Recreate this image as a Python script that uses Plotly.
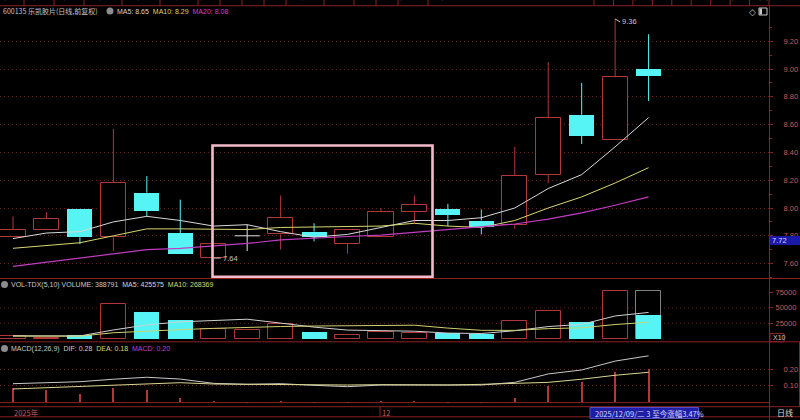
import plotly.graph_objects as go

# ================= data =================
day = list(range(20))
open_p  = [7.79, 7.84, 7.99, 7.79, 8.11, 7.82, 7.64, 7.80, 7.81, 7.83, 7.74, 7.79, 7.97, 7.99, 7.91, 7.88, 8.24, 8.67, 8.49, 9.00]
close_p = [7.84, 7.92, 7.79, 8.18, 7.98, 7.67, 7.74, 7.80, 7.93, 7.79, 7.84, 7.97, 8.02, 7.95, 7.86, 8.23, 8.65, 8.52, 8.94, 8.95]
high_p  = [7.94, 7.97, 7.99, 8.57, 8.23, 8.06, 7.74, 7.88, 8.09, 7.89, 7.84, 8.00, 8.09, 8.03, 7.99, 8.44, 9.05, 8.90, 9.36, 9.25]
low_p   = [7.79, 7.84, 7.74, 7.69, 7.94, 7.67, 7.64, 7.69, 7.70, 7.76, 7.67, 7.79, 7.89, 7.87, 7.81, 7.85, 8.18, 8.46, 8.49, 8.77]

ma5  = [7.78, 7.82, 7.83, 7.90, 7.94, 7.91, 7.87, 7.88, 7.83, 7.79, 7.81, 7.86, 7.91, 7.91, 7.93, 8.00, 8.14, 8.24, 8.44, 8.65]
ma10 = [7.71, 7.73, 7.75, 7.80, 7.85, 7.85, 7.845, 7.845, 7.86, 7.865, 7.865, 7.87, 7.89, 7.87, 7.86, 7.91, 8.00, 8.08, 8.18, 8.29]
ma20 = [7.58, 7.61, 7.64, 7.67, 7.70, 7.71, 7.725, 7.745, 7.77, 7.785, 7.795, 7.805, 7.825, 7.84, 7.86, 7.885, 7.92, 7.965, 8.02, 8.08]

volume   = [5000, 2400, 6100, 55600, 43700, 29800, 15800, 13700, 24400, 11500, 6100, 11000, 9400, 9400, 8200, 28200, 44400, 27100, 76600, 38879]
vol_forecast_last = 76800
vol_ma5  = [5200, 4600, 4900, 14500, 22560, 27520, 30200, 31720, 25480, 19040, 14300, 13340, 12480, 9480, 8820, 13240, 19920, 23460, 36900, 42558]
vol_ma10 = [4500, 4400, 4600, 10000, 13000, 15000, 17000, 19000, 20000, 20800, 20910, 21770, 22100, 17480, 13930, 13770, 16630, 17970, 23190, 26837]
vol_header = {'VOLUME': 388791, 'MA5': 425575, 'MA10': 268369}

dif  = [0.111, 0.119, 0.123, 0.138, 0.150, 0.139, 0.113, 0.107, 0.111, 0.101, 0.093, 0.103, 0.103, 0.103, 0.103, 0.119, 0.170, 0.194, 0.248, 0.280]
dea  = [0.079, 0.087, 0.093, 0.103, 0.113, 0.117, 0.109, 0.107, 0.107, 0.105, 0.103, 0.105, 0.103, 0.103, 0.107, 0.113, 0.119, 0.138, 0.162, 0.180]
macd = [0.085, 0.070, 0.050, 0.085, 0.075, 0.022, 0.004, -0.004, 0.003, -0.005, -0.005, 0.003, 0.004, -0.002, -0.004, 0.024, 0.097, 0.121, 0.182, 0.200]

axis_labels = ["2025年", "12"]
axis_label_days = [0, 11]
high_mark_day, low_mark_day = 18, 6
price_tag = 7.72

# ================= styling / layout helpers =================
FW, FH, PR = 800, 420, 769
RED = '#b03838'
CYAN = '#56f4f4'
GRID = '#6e1c1c'
BORDER = '#8a2222'
AXTXT = '#c45c5c'
FONT = 'Liberation Sans, Noto Sans CJK SC, sans-serif'
CJK = 'Noto Sans CJK SC, Liberation Sans, sans-serif'
DOTS = '1px,3px'

def dom(top_px, bot_px):
    return [1 - bot_px / FH, 1 - top_px / FH]

def txt(x, y, s, color, size=7, anchor='left', font=FONT, yanchor='middle'):
    return dict(xref='paper', yref='paper', x=x / PR, y=1 - y / FH, text=s, showarrow=False,
                xanchor=anchor, yanchor=yanchor, font=dict(color=color, size=size, family=font),
                borderpad=0)

def span(s, color):
    return f'<span style="color:{color}">{s}</span>'

def hline(y, x0=0, x1=FW, color=BORDER, w=1, dash='solid'):
    return dict(type='line', xref='paper', yref='paper', x0=x0 / PR, x1=x1 / PR, y0=1 - y / FH, y1=1 - y / FH,
                line=dict(color=color, width=w, dash=dash), layer='above')

def vline(x, y0, y1, color=BORDER, w=1):
    return dict(type='line', xref='paper', yref='paper', x0=x / PR, x1=x / PR, y0=1 - y0 / FH, y1=1 - y1 / FH,
                line=dict(color=color, width=w), layer='above')

def rect(x0, y0, x1, y1, line='rgba(0,0,0,0)', fill='rgba(0,0,0,0)', w=1):
    return dict(type='rect', xref='paper', yref='paper', x0=x0 / PR, x1=x1 / PR, y0=1 - y1 / FH, y1=1 - y0 / FH,
                line=dict(color=line, width=w), fillcolor=fill, layer='above')

def dot(cx, cy, r=3.5, color='#8c8c8c'):
    return dict(type='circle', xref='paper', yref='paper', x0=(cx - r) / PR, x1=(cx + r) / PR,
                y0=1 - (cy + r) / FH, y1=1 - (cy - r) / FH, fillcolor=color, line=dict(width=0), layer='above')

BW = 0.75
fig = go.Figure()

# ---------- candle wicks ----------
def wick_segments(sel):
    xs, ys = [], []
    for i in sel:
        lo_b, hi_b = min(open_p[i], close_p[i]), max(open_p[i], close_p[i])
        xs += [i, i, None, i, i, None]
        ys += [low_p[i], lo_b, None, hi_b, high_p[i], None]
    return xs, ys

up = [i for i in day if close_p[i] > open_p[i]]
dn = [i for i in day if close_p[i] < open_p[i]]
flat = [i for i in day if close_p[i] == open_p[i]]

for sel, col in ((up, RED), (dn, CYAN), (flat, '#e0e0e0')):
    xs, ys = wick_segments(sel)
    fig.add_trace(go.Scatter(x=xs, y=ys, mode='lines', line=dict(color=col, width=1),
                             yaxis='y', hoverinfo='skip'))

# ---------- candle bodies ----------
fig.add_trace(go.Bar(x=up, y=[close_p[i] - open_p[i] for i in up], base=[open_p[i] for i in up],
                     width=BW, marker=dict(color='black', line=dict(color=RED, width=1)), yaxis='y'))
fig.add_trace(go.Bar(x=dn, y=[open_p[i] - close_p[i] for i in dn], base=[close_p[i] for i in dn],
                     width=BW, marker=dict(color=CYAN, line=dict(color=CYAN, width=0)), yaxis='y'))
fx, fy = [], []
for i in flat:
    fx += [i - BW / 2, i + BW / 2, None]
    fy += [close_p[i], close_p[i], None]
fig.add_trace(go.Scatter(x=fx, y=fy, mode='lines', line=dict(color='#e0e0e0', width=1), yaxis='y'))

# ---------- price MAs ----------
fig.add_trace(go.Scatter(x=day, y=ma5, mode='lines', line=dict(color='#d8d8d8', width=1), yaxis='y'))
fig.add_trace(go.Scatter(x=day, y=ma10, mode='lines', line=dict(color='#d8d870', width=1), yaxis='y'))
fig.add_trace(go.Scatter(x=day, y=ma20, mode='lines', line=dict(color='#c23cc2', width=1.2), yaxis='y'))

# ---------- volume ----------
vup = [i for i in day if close_p[i] >= open_p[i]]
vdn = [i for i in day if close_p[i] < open_p[i]]
fig.add_trace(go.Bar(x=[day[-1]], y=[vol_forecast_last], width=BW,
                     marker=dict(color='black', line=dict(color='#808080', width=1)), yaxis='y2'))
fig.add_trace(go.Bar(x=vup, y=[volume[i] for i in vup], width=BW,
                     marker=dict(color='black', line=dict(color=RED, width=1)), yaxis='y2'))
fig.add_trace(go.Bar(x=vdn, y=[volume[i] for i in vdn], width=BW,
                     marker=dict(color=CYAN, line=dict(width=0)), yaxis='y2'))
fig.add_trace(go.Scatter(x=day, y=vol_ma5, mode='lines', line=dict(color='#d0d0d0', width=1), yaxis='y2'))
fig.add_trace(go.Scatter(x=day, y=vol_ma10, mode='lines', line=dict(color='#d0d070', width=1), yaxis='y2'))

# ---------- MACD ----------
fig.add_trace(go.Bar(x=day, y=macd, width=0.06,
                     marker=dict(color=[RED if v >= 0 else '#d8d8d8' for v in macd], line=dict(width=0)),
                     yaxis='y3'))
fig.add_trace(go.Scatter(x=day, y=dif, mode='lines', line=dict(color='#c8c8c8', width=1), yaxis='y3'))
fig.add_trace(go.Scatter(x=day, y=dea, mode='lines', line=dict(color='#d8d890', width=1), yaxis='y3'))

# ================= axes =================
P_TOP, P_BOT = 16, 278
V_TOP, V_BOT = 289, 340
M_TOP, M_BOT = 352, 403

def price_at(ypx):
    return 8.0 + (208 - ypx) / 139.0

def vol_at(ypx):
    return (339 - ypx) * 1603.0

def macd_at(ypx):
    return (402 - ypx) / 165.0

common = dict(side='right', anchor='x', ticks='outside', ticklen=3, tickcolor=BORDER, tickwidth=1,
              zeroline=False, showline=False, fixedrange=True,
              tickfont=dict(color=AXTXT, size=7.5, family=FONT))

fig.update_layout(
    width=FW, height=FH, margin=dict(l=0, r=FW - PR, t=0, b=0),
    paper_bgcolor='black', plot_bgcolor='black', showlegend=False,
    barmode='overlay', bargap=0, hovermode=False,
    xaxis=dict(range=[-0.389, 22.6], visible=False, fixedrange=True),
    yaxis=dict(domain=dom(P_TOP, P_BOT), range=[price_at(P_BOT), price_at(P_TOP)],
               tick0=7.6, dtick=0.2, tickformat='.2f', showgrid=True, gridcolor=GRID,
               griddash=DOTS, gridwidth=1, ticklabelstandoff=9,
               minor=dict(ticks='outside', ticklen=2, tickcolor=BORDER, dtick=0.1, showgrid=False),
               **common),
    yaxis2=dict(domain=dom(V_TOP, V_BOT), range=[vol_at(V_BOT), vol_at(V_TOP)],
                tickvals=[25000, 50000, 75000], ticktext=['25000', '50000', '75000'],
                showgrid=False, ticklabelstandoff=1, **common),
    yaxis3=dict(domain=dom(M_TOP, M_BOT), range=[macd_at(M_BOT), macd_at(M_TOP)],
                tickvals=[0.10, 0.20], tickformat='.2f', showgrid=True, gridcolor=GRID,
                griddash=DOTS, gridwidth=1, ticklabelstandoff=9, **common),
)

shapes = []
# volume grid lines
for v in (25000, 50000):
    shapes.append(dict(type='line', xref='paper', yref='y2', x0=0, x1=1, y0=v, y1=v,
                       line=dict(color=GRID, width=1, dash=DOTS), layer='below'))
# panel borders
shapes += [hline(5.7), hline(278.5), hline(341.8), hline(402.6, 0, PR), hline(406.7), hline(416.8),
           vline(PR + 0.5, 5.7, 420), vline(799.5, 341.8, 406.7)]
# X10 box
shapes.append(rect(770, 333.5, 784, 341.8, line=BORDER))
# drawn selection box
shapes.append(rect(212.5, 145.5, 432.5, 276.8, line='#f2bccc', w=2.6))
# current price tag
shapes.append(rect(770, 236, 800, 245, fill='#1a1aa6'))
# bottom info box
shapes.append(rect(590, 407.5, 698.5, 418.5, fill='#1e1ea4', line='#5050c8'))
# axis tick for month label
shapes.append(vline(380, 407, 416.8, color=BORDER))
# header icons
shapes += [dot(110, 11), dot(4.5, 284.5), dot(4.5, 348.5)]
shapes.append(rect(759, 8, 767, 15, line='#c8c8c8'))
shapes.append(rect(759.5, 8.5, 762, 14.5, fill='#c8c8c8'))
# top menu
left_menu = ['分时', '1分钟', '5分钟', '15分钟', '30分钟', '60分钟', '分钟', '日线', '周线', '月线',
             '45分钟', '1日线', '季线', '年线', '多周期', '更多>']
right_menu = ['操作', '显示', '多股', '统计', '画线', 'F10', '标记', '自选', '返回']
lx = [2]
for m in left_menu:
    lx.append(lx[-1] + 6 + 8 * len(m))
rx = [594 + k * (PR - 594) / len(right_menu) for k in range(len(right_menu) + 1)]
for x in lx[1:-1]:
    shapes.append(vline(x, 0, 5.7))
for x in rx:
    shapes.append(vline(x, 0, 5.7))

ann = []
for k, m in enumerate(left_menu):
    ann.append(txt((lx[k] + lx[k + 1]) / 2, 3.5, m, '#e0e0e0', size=9, anchor='center', font=CJK, yanchor='bottom'))
for k, m in enumerate(right_menu):
    ann.append(txt((rx[k] + rx[k + 1]) / 2, 3.5, m, '#e0e0e0', size=9, anchor='center', font=CJK, yanchor='bottom'))

# headers
price_head = '&nbsp;&nbsp;'.join([span(f'MA5: {ma5[-1]:.2f}', '#d8d8d8'),
                                  span(f'MA10: {ma10[-1]:.2f}', '#d8d870'),
                                  span(f'MA20: {ma20[-1]:.2f}', '#d040d0')])
vol_head = '&nbsp;&nbsp;'.join([span(f"VOL-TDX(5,10) VOLUME: {vol_header['VOLUME']}", '#c8c8c8'),
                                span(f"MA5: {vol_header['MA5']}", '#d8d8d8'),
                                span(f"MA10: {vol_header['MA10']}", '#d8d870')])
macd_head = '&nbsp;&nbsp;'.join([span('MACD(12,26,9)', '#c8c8c8'),
                                 span(f'DIF: {dif[-1]:.2f}', '#d0d0d0'),
                                 span(f'DEA: {dea[-1]:.2f}', '#d8d870'),
                                 span(f'MACD: {macd[-1]:.2f}', '#c040c0')])
ann += [
    txt(2, 11, '600135 乐凯胶片(日线,前复权)', '#c8c8c8', size=7, font=CJK),
    txt(116, 11, price_head, '#d8d8d8'),
    txt(752, 11.5, '◇', '#c8c8c8', size=9, anchor='center', font='DejaVu Sans'),
    txt(10, 284.5, vol_head, '#c8c8c8'),
    txt(10, 348.5, macd_head, '#c8c8c8'),
    txt(771, 240.5, f'{price_tag:.2f}', '#d8d8ff', size=7.5),
    txt(771.5, 337.8, 'X10', '#d8c0c0', size=7),
    txt(785, 412, '日线', '#d8d8d8', size=8, anchor='center', font=CJK),
    txt(594, 413, '2025/12/09/二 3 至今涨幅3.47%', '#d8d8ff', size=7.5, font=CJK),
]
for lab, d in zip(axis_labels, axis_label_days):
    ann.append(dict(xref='x', yref='paper', x=d, y=1 - 412 / FH, text=lab, showarrow=False,
                    xanchor='left', yanchor='middle', xshift=-1,
                    font=dict(color=AXTXT, size=7.5, family=CJK)))

# high / low markers
ann.append(dict(xref='x', yref='y', x=high_mark_day, y=high_p[high_mark_day], text=f'{high_p[high_mark_day]:.2f}',
                showarrow=True, arrowhead=0, arrowwidth=1, arrowcolor='#c8c8c8', ax=5, ay=3,
                xanchor='left', yanchor='middle', font=dict(color='#c8c8c8', size=7.5, family=FONT)))
ann.append(dict(xref='x', yref='y', x=low_mark_day, y=low_p[low_mark_day], text=f'{low_p[low_mark_day]:.2f}',
                showarrow=True, arrowhead=0, arrowwidth=1, arrowcolor='#c8c8c8', ax=7, ay=0,
                xanchor='left', yanchor='middle', font=dict(color='#c8c8c8', size=7.5, family=FONT)))

fig.update_layout(shapes=shapes, annotations=ann)
fig.write_html('out.html', config={'displayModeBar': False},
               post_script="document.body.style.margin='0';document.body.style.padding='0';")
